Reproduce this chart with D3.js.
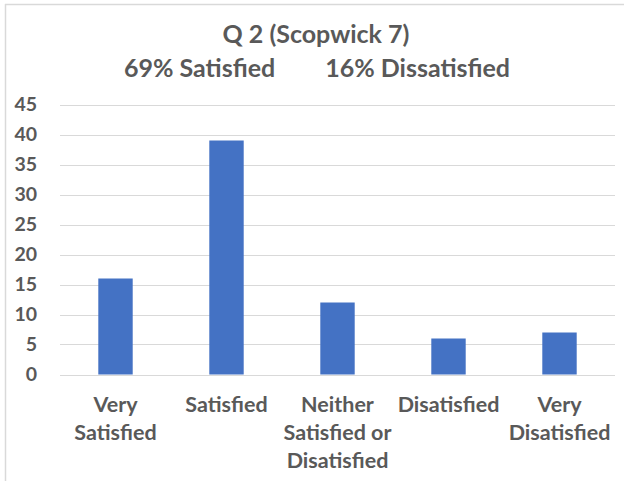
<!DOCTYPE html>
<html>
<head>
<meta charset="utf-8">
<script src="https://cdn.jsdelivr.net/npm/d3@7"></script>
<style>
  body { margin: 0; background: #fff; }
  text { font-family: Lato, "Open Sans", sans-serif; font-weight: bold; fill: #595959; }
</style>
</head>
<body>
<div id="chart"></div>
<script>
const categories = ["Very Satisfied", "Satisfied", "Neither Satisfied or Disatisfied", "Disatisfied", "Very Disatisfied"];
const categoryLines = [["Very", "Satisfied"], ["Satisfied"], ["Neither", "Satisfied or", "Disatisfied"], ["Disatisfied"], ["Very", "Disatisfied"]];
const values = [16, 39, 12, 6, 7];
const yTicks = [0, 5, 10, 15, 20, 25, 30, 35, 40, 45];
const title = "Q 2 (Scopwick 7)";
const subtitleParts = ["69% Satisfied", "16% Dissatisfied"];

const width = 624, height = 481;
const margin = { top: 104.5, right: 9, bottom: 106.5, left: 60 };

const svg = d3.select("#chart").append("svg")
  .attr("width", width)
  .attr("height", height);

// chart frame (only top and left edges are visible in the crop)
svg.append("line")
  .attr("x1", 5).attr("x2", width).attr("y1", 4.5).attr("y2", 4.5)
  .attr("stroke", "#d9d9d9").attr("stroke-width", 1.5);
svg.append("line")
  .attr("x1", 5.5).attr("x2", 5.5).attr("y1", 4).attr("y2", height)
  .attr("stroke", "#d9d9d9").attr("stroke-width", 1.5);

const x = d3.scaleBand()
  .domain(categories)
  .range([margin.left, width - margin.right])
  .paddingInner(0.69)
  .paddingOuter(0.345);

const y = d3.scaleLinear()
  .domain([0, 45])
  .range([height - margin.bottom, margin.top]);

// gridlines
svg.append("g")
  .selectAll("line")
  .data(yTicks)
  .join("line")
  .attr("x1", margin.left)
  .attr("x2", width - margin.right)
  .attr("y1", d => Math.round(y(d)) + 0.5)
  .attr("y2", d => Math.round(y(d)) + 0.5)
  .attr("stroke", "#d9d9d9")
  .attr("stroke-width", 1);

// y axis labels
const yAxis = svg.append("g")
  .attr("transform", `translate(${margin.left - 23},0)`)
  .call(d3.axisLeft(y).tickValues(yTicks).tickSize(0).tickPadding(0));
yAxis.select(".domain").remove();
yAxis.selectAll("text")
  .attr("font-size", 19.5)
  .attr("font-family", null)
  .attr("fill", null);

// bars
svg.append("g")
  .selectAll("rect")
  .data(values)
  .join("rect")
  .attr("x", (d, i) => x(categories[i]))
  .attr("y", d => y(d))
  .attr("width", x.bandwidth())
  .attr("height", d => y(0) - y(d))
  .attr("fill", "#4472c4");

// x axis labels
const xLabels = svg.append("g")
  .selectAll("text")
  .data(categories)
  .join("text")
  .attr("text-anchor", "middle")
  .attr("font-size", 21.5)
  .attr("x", d => x(d) + x.bandwidth() / 2)
  .attr("y", 412);
xLabels.selectAll("tspan")
  .data((d, i) => categoryLines[i])
  .join("tspan")
  .attr("x", function () { return this.parentNode.getAttribute("x"); })
  .attr("dy", (d, i) => i === 0 ? 0 : 28)
  .text(d => d);

// titles
svg.append("text")
  .attr("x", 316)
  .attr("y", 43)
  .attr("text-anchor", "middle")
  .attr("font-size", 25)
  .text(title);

const sub = svg.append("text")
  .attr("x", 317)
  .attr("y", 77)
  .attr("text-anchor", "middle")
  .attr("font-size", 25);
sub.selectAll("tspan")
  .data(subtitleParts)
  .join("tspan")
  .attr("dx", (d, i) => i === 0 ? 0 : 50)
  .text(d => d);
</script>
</body>
</html>
